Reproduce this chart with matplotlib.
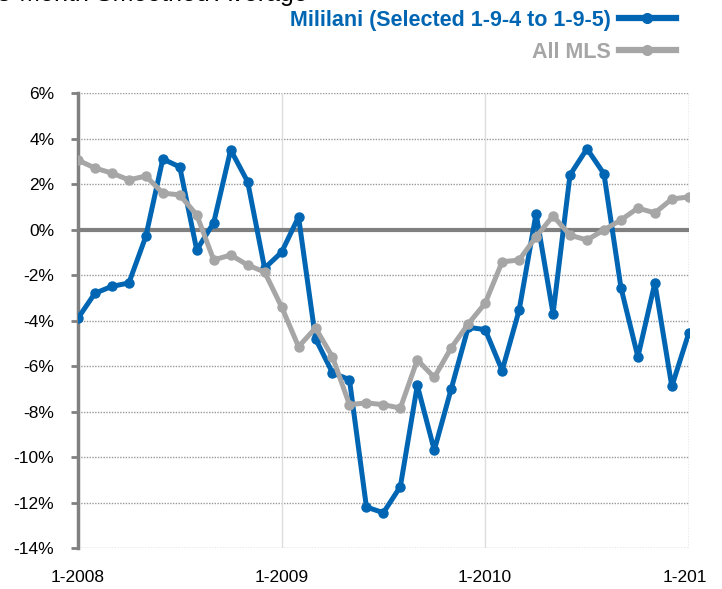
import matplotlib
matplotlib.use("Agg")
import matplotlib.pyplot as plt
from matplotlib.transforms import Bbox

plt.rcParams["font.family"] = ["Liberation Sans", "DejaVu Sans"]

# monthly, Jan 2008 .. Jan 2011 (percent)
months = list(range(37))
mililani = [-3.9, -2.8, -2.5, -2.35, -0.3, 3.1, 2.75, -0.9, 0.3, 3.5, 2.1, -1.7,
            -1.0, 0.55, -4.8, -6.3, -6.6, -12.2, -12.45, -11.3, -6.85, -9.7, -7.0, -4.3,
            -4.4, -6.2, -3.55, 0.7, -3.7, 2.4, 3.55, 2.45, -2.55, -5.6, -2.35, -6.9,
            -4.55]
all_mls = [3.05, 2.7, 2.48, 2.18, 2.35, 1.6, 1.52, 0.64, -1.34, -1.12, -1.56, -1.87,
           -3.4, -5.15, -4.33, -5.6, -7.7, -7.62, -7.7, -7.85, -5.73, -6.5, -5.2, -4.15,
           -3.24, -1.42, -1.34, -0.32, 0.6, -0.25, -0.46, -0.02, 0.42, 0.94, 0.73, 1.34,
           1.43]
tick_pos = [0, 12, 24, 36]
tick_labels = ["1-2008", "1-2009", "1-2010", "1-2011"]
y_ticks = list(range(-14, 7, 2))

blue = "#0066b3"
grey = "#a6a6a6"

fig = plt.figure(figsize=(7.22, 5.89), dpi=100)
ax = fig.add_axes([0.108, 0.0696, 0.846, 0.7725])

for y in y_ticks:
    if y != 0:
        ax.axhline(y, color="#999999", lw=1, ls=(0, (1, 1)), zorder=1)
for x in tick_pos[1:3]:
    ax.axvline(x, color="#dddddd", lw=1, zorder=1)
ax.axvline(36, color="#999999", lw=1, ls=(0, (1, 1)), zorder=1)
ax.axhline(0, color="#808080", lw=3, zorder=2)

ax.plot(months, mililani, color=blue, lw=3.6, marker="o", ms=6.5,
        label="Mililani (Selected 1-9-4 to 1-9-5)", zorder=3, solid_joinstyle="round")
ax.plot(months, all_mls, color=grey, lw=3.6, marker="o", ms=6.5,
        label="All MLS", zorder=4, solid_joinstyle="round")

ax.set_xlim(0, 36)
ax.set_ylim(-14, 6)
ax.set_yticks(y_ticks)
ax.set_yticklabels([f"{v}%" for v in y_ticks], fontsize=12.5)
ax.set_xticks(tick_pos)
ax.set_xticklabels(tick_labels, fontsize=12.5)
ax.tick_params(axis="x", length=0, pad=16)
ax.tick_params(axis="y", direction="out", length=5, width=2, color="#808080", pad=12)
for s in ["top", "right", "bottom"]:
    ax.spines[s].set_visible(False)
ax.spines["left"].set_color("#808080")
ax.spines["left"].set_linewidth(2.5)

# the source image is cut off on the right and at the top
clip = Bbox.from_extents(0, 0, 706, 589)
for lab in ax.get_xticklabels():
    lab.set_clip_box(clip)
    lab.set_clip_on(True)

fig.text(-0.004, 1 - 1.5 / 589, "3-Month Smoothed Average", fontsize=18, va="baseline")

leg = fig.legend(loc="upper right", bbox_to_anchor=(676 / 722, 1 - 10 / 589),
                 frameon=False, markerfirst=False, handlelength=2.65, handletextpad=0.37,
                 labelspacing=0.5, labelcolor="linecolor",
                 prop={"weight": "bold", "size": 15.5}, borderaxespad=0, borderpad=0)
for h in leg.legend_handles:
    h.set_linewidth(4.5)
    h.set_markersize(7)

fig.savefig("out.png", dpi=100)
